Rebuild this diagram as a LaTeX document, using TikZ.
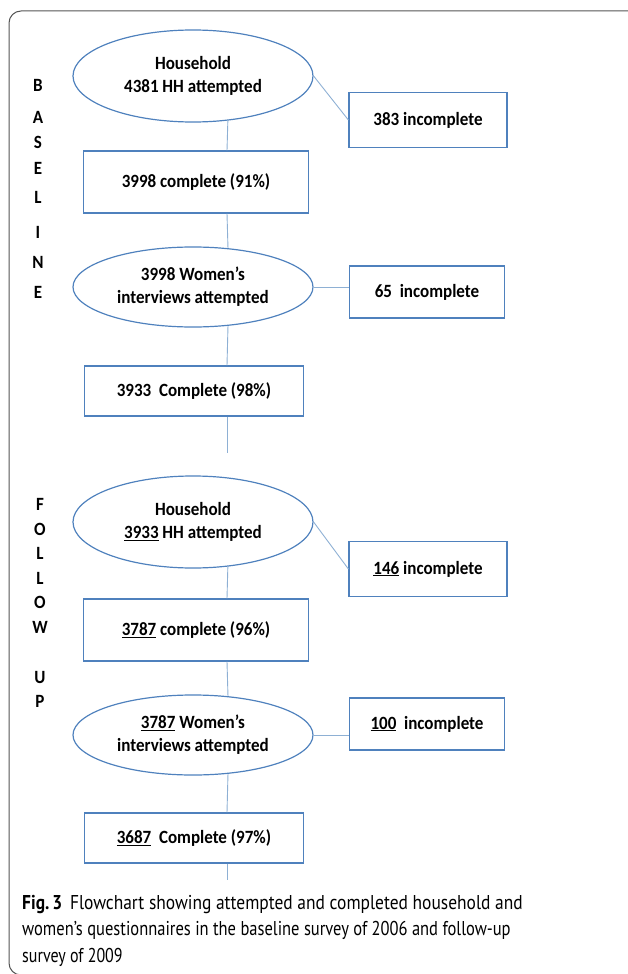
\documentclass[tikz,border=0pt]{standalone}
\usepackage{fontspec}
\setmainfont{Carlito}
\newfontfamily\capfont{PT Sans}
\usetikzlibrary{shapes.geometric}
\definecolor{nodeblue}{HTML}{4F81BD}
\definecolor{linkblue}{HTML}{8EB0D4}
\definecolor{framegray}{HTML}{555555}
\newcommand{\sqz}[1]{\scalebox{0.91}[1]{#1}}
\begin{document}
\begin{tikzpicture}[x=1pt,y=-1pt,
  oval/.style={ellipse, draw=nodeblue, line width=1.2pt, minimum width=240pt, inner sep=0pt, align=center, font=\fontsize{18.7}{24}\selectfont\bfseries},
  bigoval/.style={oval, minimum height=92pt},
  smalloval/.style={oval, minimum height=80pt},
  boxnode/.style={rectangle, draw=nodeblue, line width=1.2pt, inner sep=0pt, align=center, font=\fontsize{18.7}{22}\selectfont\bfseries},
  link/.style={draw=linkblue, line width=0.9pt},
  sideletter/.style={font=\fontsize{18.7}{20}\selectfont\bfseries, inner sep=0pt, anchor=center},
  captext/.style={font=\capfont\fontsize{20}{22}\selectfont, inner sep=0pt, anchor=base west},
]
\useasboundingbox (0,0) rectangle (627,974);
\draw[framegray, line width=1pt, rounded corners=12pt] (9,11) rectangle (660,975);

\coordinate (spine) at (227,0);

% baseline
\node[bigoval] (e1) at (193,76) {\sqz{Household}\\[-1pt]\sqz{4381 HH attempted}};
\node[boxnode, minimum width=158pt, minimum height=55pt] (i1) at (428,120) {\sqz{383 incomplete}};
\node[boxnode, minimum width=225pt, minimum height=62pt] (b1) at (196,182) {\sqz{3998 complete (91\%)}};
\node[smalloval] (e2) at (193,287) {\sqz{3998 Women’s}\\[-1pt]\sqz{interviews attempted}};
\node[boxnode, minimum width=155pt, minimum height=52pt] (i2) at (427,292) {\sqz{65~ incomplete}};
\node[boxnode, minimum width=219pt, minimum height=50pt] (b2) at (194,391) {\sqz{3933~ Complete (98\%)}};
\coordinate (end1) at (227,453);

% follow up
\node[bigoval] (e3) at (193,522) {\sqz{Household}\\[-1pt]\sqz{\underline{3933} HH attempted}};
\node[boxnode, minimum width=158pt, minimum height=55pt] (i3) at (428,569) {\sqz{\underline{146} incomplete}};
\node[boxnode, minimum width=225pt, minimum height=62pt] (b3) at (196,630) {\sqz{\underline{3787} complete (96\%)}};
\node[smalloval] (e4) at (193,735) {\sqz{\underline{3787} Women’s}\\[-1pt]\sqz{interviews attempted}};
\node[boxnode, minimum width=155pt, minimum height=52pt] (i4) at (427,724) {\sqz{\underline{100}~ incomplete}};
\node[boxnode, minimum width=219pt, minimum height=50pt] (b4) at (194,838) {\sqz{\underline{3687}~ Complete (97\%)}};
\coordinate (end2) at (227,880);

% connectors
\draw[link] (e1.east) -- (i1.west);
\draw[link] (e1.-52.4) -- (b1.north -| spine);
\draw[link] (b1.south -| spine) -- (e2.48.5);
\draw[link] (e2.east) -- (e2.east -| i2.west);
\draw[link] (e2.-48.5) -- (b2.north -| spine);
\draw[link] (b2.south -| spine) -- (end1);

\draw[link] (e3.east) -- (i3.west);
\draw[link] (e3.-52.4) -- (b3.north -| spine);
\draw[link] (b3.south -| spine) -- (e4.48.5);
\draw[link] (e4.east) -- (e4.east -| i4.west);
\draw[link] (e4.-48.5) -- (b4.north -| spine);
\draw[link] (b4.south -| spine) -- (end2);

% side labels
\foreach \l/\y [count=\i] in {B/85,A/117,S/142,E/168,L/197,I/232,N/262,E/292}
  \node[sideletter] (bl\i) at (38,\y) {\sqz{\l}};
\foreach \l/\y [count=\i] in {F/504,O/529,L/553,L/578,O/602,W/627,U/677,P/701}
  \node[sideletter] (fl\i) at (40,\y) {\sqz{\l}};

% caption
\node[captext] (cap1) at (22,909) {\scalebox{0.872}[1]{\textbf{Fig.\,3}\hspace{0.45em}Flowchart showing attempted and completed household and}};
\node[captext] (cap2) at (22,935) {\scalebox{0.825}[1]{women’s questionnaires in the baseline survey of 2006 and follow-up}};
\node[captext] (cap3) at (22,962) {\scalebox{0.80}[1]{survey of 2009}};
\end{tikzpicture}
\end{document}
